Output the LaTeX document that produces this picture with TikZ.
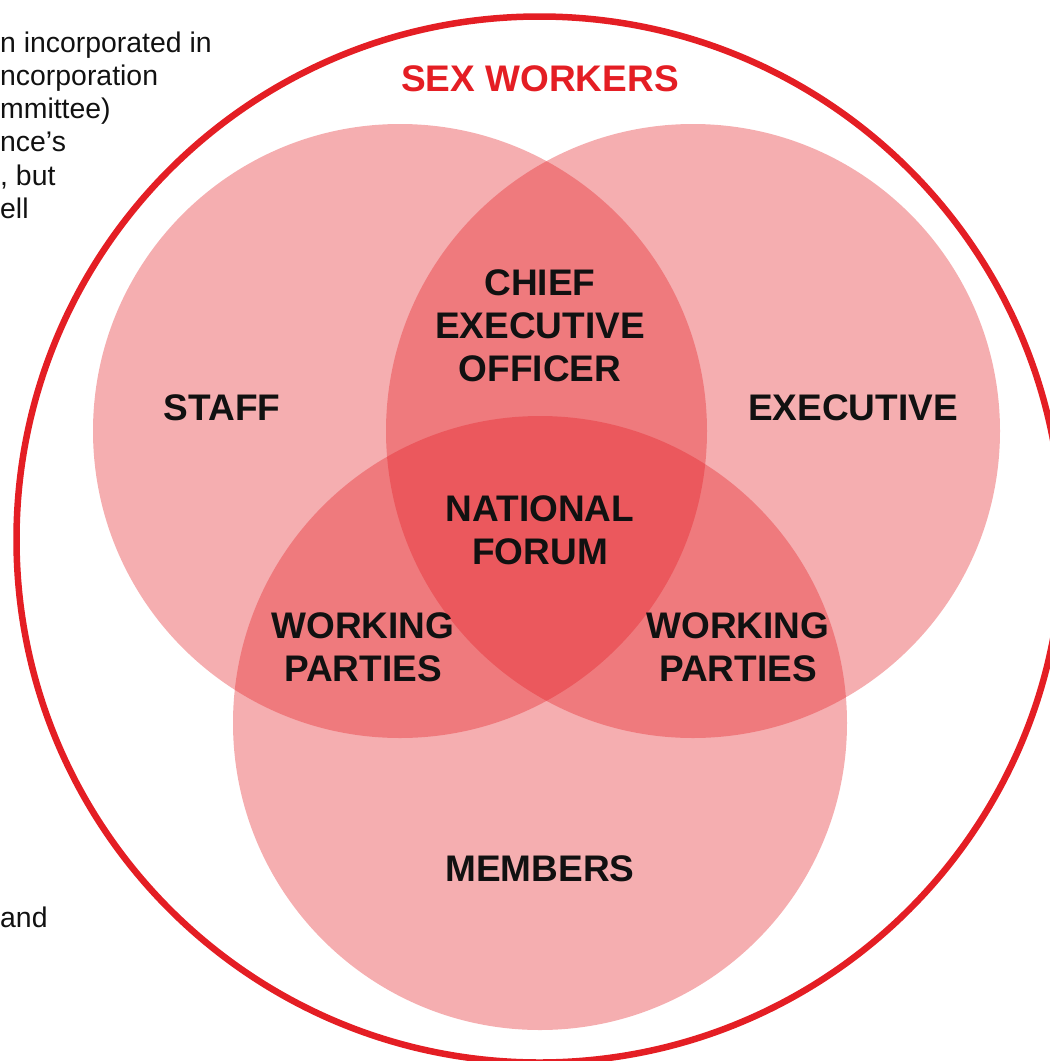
\documentclass[tikz,border=0pt]{standalone}
\usepackage{fontspec}
\setmainfont{Liberation Sans}
\definecolor{swred}{RGB}{228,30,36}
\definecolor{ink}{RGB}{17,17,17}
\begin{document}
\begin{tikzpicture}[x=1pt, y=-1pt,
		venn/.style={circle, inner sep=0pt, minimum size=614pt, fill=swred, fill opacity=0.36},
		lbl/.style={text=ink, align=center, inner sep=0pt, font=\fontsize{37}{43}\selectfont\bfseries},
		note/.style={anchor=base west, inner sep=0pt, text=ink, font=\fontsize{28.4}{33.5}\selectfont}]
	\useasboundingbox (0,0) rectangle (1050,1061);
	\clip (0,0) rectangle (1050,1061);

	% Page text behind the figure
	\node[note] (note1) at (0,52) {n incorporated in};
	\node[note] (note2) at (0,85) {ncorporation};
	\node[note] (note3) at (0,118) {mmittee)};
	\node[note] (note4) at (0,151) {nce’s};
	\node[note] (note5) at (0,185) {, but};
	\node[note] (note6) at (0,218) {ell};
	\node[note] (note7) at (0,927) {and};

	% Sex workers ring
	\node[draw=swred, line width=6.5pt, circle, inner sep=0pt, minimum size=1046pt] (outer) at (539.5,539.5) {};
	\node[lbl, text=swred] (sexworkers) at (540,79) {SEX WORKERS};

	% Three groups
	\node[venn] (staff) at (400,431) {};
	\node[venn] (exec) at (693,431) {};
	\node[venn] (members) at (540,723) {};

	% Labels
	\node[lbl] (stafflbl) at (222,408) {STAFF};
	\node[lbl] (execlbl) at (853,408) {EXECUTIVE};
	\node[lbl] (ceo) at (540,326) {CHIEF\\EXECUTIVE\\OFFICER};
	\node[lbl] (forum) at (540,530) {NATIONAL\\FORUM};
	\node[lbl] (partiesleft) at (363,647) {WORKING\\PARTIES};
	\node[lbl] (partiesright) at (738,647) {WORKING\\PARTIES};
	\node[lbl] (memberslbl) at (540,869) {MEMBERS};
\end{tikzpicture}
\end{document}
